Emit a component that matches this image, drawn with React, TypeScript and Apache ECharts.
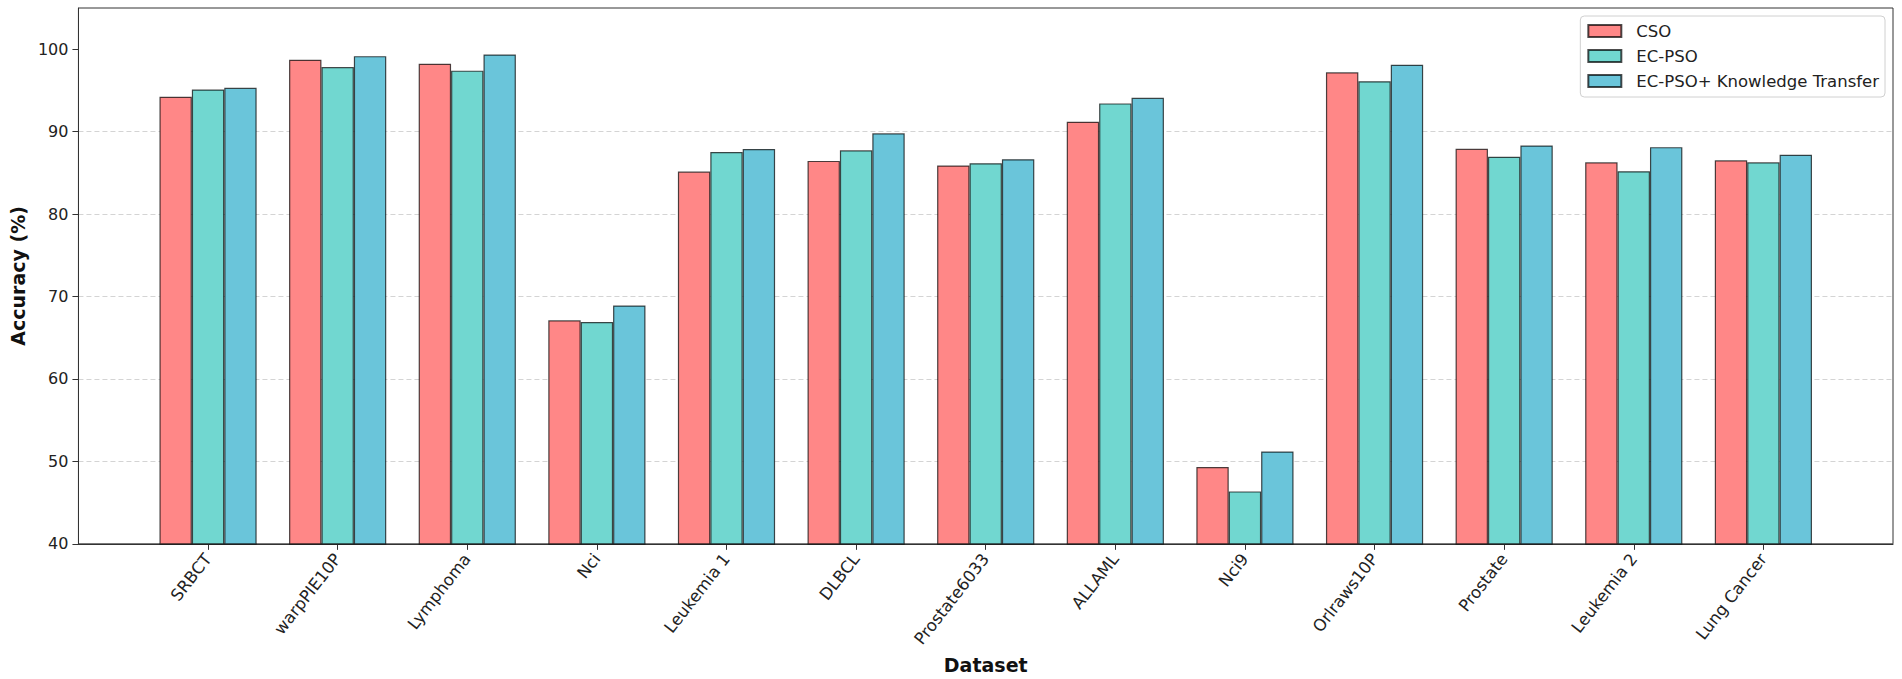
import React, { useEffect, useRef } from "react";
import * as echarts from "echarts";

const categories = [
  "SRBCT", "warpPIE10P", "Lymphoma", "Nci", "Leukemia 1", "DLBCL", "Prostate6033",
  "ALLAML", "Nci9", "Orlraws10P", "Prostate", "Leukemia 2", "Lung Cancer",
];
const seriesNames = ["CSO", "EC-PSO", "EC-PSO+ Knowledge Transfer"];
const csoValues = [94.24, 98.72, 98.24, 67.12, 85.16, 86.45, 85.9, 91.2, 49.32, 97.2, 87.92, 86.28, 86.52];
const ecPsoValues = [95.12, 97.84, 97.4, 66.92, 87.54, 87.74, 86.17, 93.43, 46.36, 96.12, 86.96, 85.2, 86.28];
const ecPsoKtValues = [95.32, 99.16, 99.36, 68.92, 87.9, 89.8, 86.65, 94.1, 51.2, 98.12, 88.32, 88.12, 87.2];
const yTicks = [40, 50, 60, 70, 80, 90, 100];
const colors = ["#FF8787", "#71D7D0", "#6AC5DA"];

export default function App() {
  const ref = useRef<HTMLDivElement>(null);
  useEffect(() => {
    if (!ref.current) return;
    const chart = echarts.init(ref.current, null, { renderer: "svg" });
    const font = "DejaVu Sans";
    // pad one empty slot at each end so the axis spans -1 .. 13 like the original
    const padCats = ["", ...categories, ""];
    const pad = (arr: number[]) => [null, ...arr, null];
    const allData = [csoValues, ecPsoValues, ecPsoKtValues];
    const lastIdx = padCats.length - 1;
    chart.setOption({
      animation: false,
      backgroundColor: "#ffffff",
      textStyle: { fontFamily: font },
      grid: {
        left: 78,
        right: 9,
        top: 8,
        bottom: 132,
        show: true,
        borderColor: "#333",
        borderWidth: 1,
        containLabel: false,
      },
      legend: {
        orient: "vertical",
        right: 17,
        top: 16,
        padding: [5, 6, 6, 7],
        itemGap: 5,
        itemWidth: 33,
        itemHeight: 12,
        icon: "rect",
        backgroundColor: "rgba(255,255,255,0.85)",
        borderColor: "#d0d0d0",
        borderWidth: 1,
        borderRadius: 4,
        textStyle: {
          fontFamily: font,
          fontSize: 16.5,
          color: "#222",
          lineHeight: 20,
          padding: [0, 0, 0, 10],
        },
        data: seriesNames,
      },
      xAxis: {
        type: "category",
        data: padCats,
        boundaryGap: false,
        name: "Dataset",
        nameLocation: "middle",
        nameGap: 109,
        nameTextStyle: { fontFamily: font, fontSize: 19, fontWeight: "bold", color: "#111" },
        axisLine: { show: true, lineStyle: { color: "#333", width: 1 } },
        axisTick: {
          show: true,
          length: 6,
          interval: (index: number) => index > 0 && index < lastIdx,
          lineStyle: { color: "#333" },
        },
        axisLabel: {
          interval: 0,
          rotate: 52,
          margin: 12,
          fontFamily: font,
          fontSize: 16.5,
          color: "#222",
        },
        splitLine: { show: false },
      },
      yAxis: {
        type: "value",
        min: 40,
        max: 105,
        interval: 10,
        name: "Accuracy (%)",
        nameLocation: "middle",
        nameGap: 48,
        nameRotate: 90,
        nameTextStyle: { fontFamily: font, fontSize: 19, fontWeight: "bold", color: "#111" },
        axisLine: { show: true, lineStyle: { color: "#333", width: 1 } },
        axisTick: { show: true, length: 6, customValues: yTicks, lineStyle: { color: "#333" } },
        axisLabel: { customValues: yTicks, margin: 10, fontFamily: font, fontSize: 16, color: "#222" },
        splitLine: {
          show: true,
          showMinLine: false,
          showMaxLine: false,
          lineStyle: { color: "#d4d4d4", type: [5, 3], width: 1 },
        },
      },
      series: seriesNames.map((name, i) => ({
        name,
        type: "bar",
        data: pad(allData[i]),
        barWidth: 32.4,
        barGap: "0%",
        itemStyle: {
          color: colors[i],
          borderColor: "rgba(0,0,0,0.7)",
          borderWidth: 1.2,
        },
      })),
    });
    return () => chart.dispose();
  }, []);
  return (
    <div
      ref={ref}
      style={{ position: "fixed", left: 0, top: 0, width: 1902, height: 679, background: "#fff" }}
    />
  );
}
